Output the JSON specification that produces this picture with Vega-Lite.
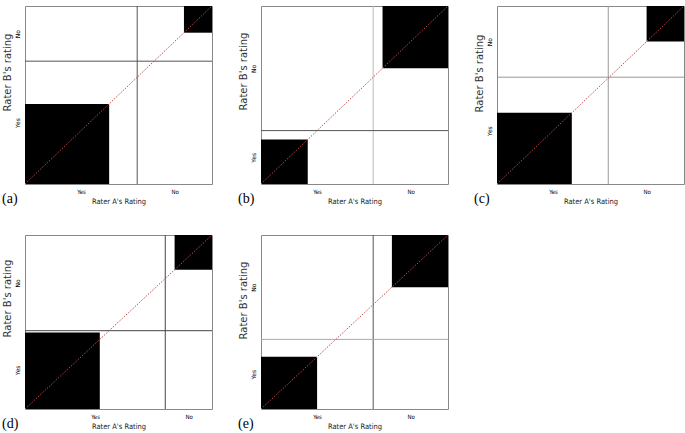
{
  "$schema": "https://vega.github.io/schema/vega-lite/v6.json",
  "background": "white",
  "padding": {"left": 1, "top": 5, "right": 0, "bottom": 0},
  "columns": 3,
  "spacing": {"row": 51, "column": 49},
  "bounds": "flush",
  "config": {
    "view": {"stroke": "#888"},
    "title": {"font": "Liberation Serif", "fontSize": 14, "fontWeight": "normal", "color": "black"},
    "axis": {"ticks": false, "domain": false, "grid": false, "labelColor": "black", "titleColor": "black", "titleFontWeight": "normal"},
    "axisX": {"labelFont": "DejaVu Sans Condensed, Liberation Sans Narrow, Liberation Sans", "labelFontSize": 6, "labelPadding": 4, "titleFont": "DejaVu Sans Condensed, Liberation Sans Narrow, Liberation Sans", "titleFontSize": 7.5, "titlePadding": 3, "titleColor": "#222"},
    "axisY": {"labelFont": "DejaVu Sans", "labelFontSize": 6, "labelAngle": -90, "labelAlign": "center", "labelBaseline": "bottom", "labelPadding": 5, "titleFont": "DejaVu Sans", "titleFontSize": 10, "titlePadding": 2, "titleColor": "#333"}
  },
  "concat": [
    {
      "width": 187, "height": 178,
      "title": {"text": "(a)", "orient": "bottom", "anchor": "start", "frame": "bounds", "offset": -13},
      "layer": [
        {"data": {"values": [{"x0": 0, "x1": 0.45, "y0": 0, "y1": 0.45}, {"x0": 0.85, "x1": 1, "y0": 0.85, "y1": 1}]},
         "mark": {"type": "rect", "color": "black"},
         "encoding": {
           "x": {"field": "x0", "type": "quantitative", "scale": {"domain": [0, 1], "nice": false, "zero": false},
                 "axis": {"values": [0.3, 0.8], "labelExpr": "datum.value < 0.6 ? 'Yes' : 'No'", "title": "Rater A's Rating"}},
           "x2": {"field": "x1"},
           "y": {"field": "y0", "type": "quantitative", "scale": {"domain": [0, 1], "nice": false, "zero": false},
                 "axis": {"values": [0.345, 0.845], "labelExpr": "datum.value < 0.69 ? 'Yes' : 'No'", "title": "Rater B's rating", "titleY": 66}},
           "y2": {"field": "y1"}}},
        {"data": {"values": [{"x0": 0.6}]}, "mark": {"type": "rule", "color": "#555"},
         "encoding": {"x": {"field": "x0", "type": "quantitative"}}},
        {"data": {"values": [{"y0": 0.69}]}, "mark": {"type": "rule", "color": "#555"},
         "encoding": {"y": {"field": "y0", "type": "quantitative"}}},
        {"data": {"values": [{"x0": 0, "y0": 0, "x1": 1, "y1": 1}]}, "mark": {"type": "rule", "color": "#c04848", "strokeDash": [1.5, 1.5]},
         "encoding": {"x": {"field": "x0", "type": "quantitative"}, "y": {"field": "y0", "type": "quantitative"}, "x2": {"field": "x1"}, "y2": {"field": "y1"}}}
      ]
    },
    {
      "width": 187, "height": 178,
      "title": {"text": "(b)", "orient": "bottom", "anchor": "start", "frame": "bounds", "offset": -13},
      "layer": [
        {"data": {"values": [{"x0": 0, "x1": 0.25, "y0": 0, "y1": 0.25}, {"x0": 0.65, "x1": 1, "y0": 0.65, "y1": 1}]},
         "mark": {"type": "rect", "color": "black"},
         "encoding": {
           "x": {"field": "x0", "type": "quantitative", "scale": {"domain": [0, 1], "nice": false, "zero": false},
                 "axis": {"values": [0.3, 0.8], "labelExpr": "datum.value < 0.6 ? 'Yes' : 'No'", "title": "Rater A's Rating"}},
           "x2": {"field": "x1"},
           "y": {"field": "y0", "type": "quantitative", "scale": {"domain": [0, 1], "nice": false, "zero": false},
                 "axis": {"values": [0.15, 0.65], "labelExpr": "datum.value < 0.3 ? 'Yes' : 'No'", "title": "Rater B's rating", "titleY": 65}},
           "y2": {"field": "y1"}}},
        {"data": {"values": [{"x0": 0.6}]}, "mark": {"type": "rule", "color": "#bbb"},
         "encoding": {"x": {"field": "x0", "type": "quantitative"}}},
        {"data": {"values": [{"y0": 0.3}]}, "mark": {"type": "rule", "color": "#555"},
         "encoding": {"y": {"field": "y0", "type": "quantitative"}}},
        {"data": {"values": [{"x0": 0, "y0": 0, "x1": 1, "y1": 1}]}, "mark": {"type": "rule", "color": "#c04848", "strokeDash": [1.5, 1.5]},
         "encoding": {"x": {"field": "x0", "type": "quantitative"}, "y": {"field": "y0", "type": "quantitative"}, "x2": {"field": "x1"}, "y2": {"field": "y1"}}}
      ]
    },
    {
      "width": 187, "height": 178,
      "title": {"text": "(c)", "orient": "bottom", "anchor": "start", "frame": "bounds", "offset": -13},
      "layer": [
        {"data": {"values": [{"x0": 0, "x1": 0.4, "y0": 0, "y1": 0.4}, {"x0": 0.8, "x1": 1, "y0": 0.8, "y1": 1}]},
         "mark": {"type": "rect", "color": "black"},
         "encoding": {
           "x": {"field": "x0", "type": "quantitative", "scale": {"domain": [0, 1], "nice": false, "zero": false},
                 "axis": {"values": [0.3, 0.8], "labelExpr": "datum.value < 0.595 ? 'Yes' : 'No'", "title": "Rater A's Rating"}},
           "x2": {"field": "x1"},
           "y": {"field": "y0", "type": "quantitative", "scale": {"domain": [0, 1], "nice": false, "zero": false},
                 "axis": {"values": [0.3, 0.8], "labelExpr": "datum.value < 0.6 ? 'Yes' : 'No'", "title": "Rater B's rating", "titleY": 67}},
           "y2": {"field": "y1"}}},
        {"data": {"values": [{"x0": 0.595}]}, "mark": {"type": "rule", "color": "#999"},
         "encoding": {"x": {"field": "x0", "type": "quantitative"}}},
        {"data": {"values": [{"y0": 0.6}]}, "mark": {"type": "rule", "color": "#999"},
         "encoding": {"y": {"field": "y0", "type": "quantitative"}}},
        {"data": {"values": [{"x0": 0, "y0": 0, "x1": 1, "y1": 1}]}, "mark": {"type": "rule", "color": "#c04848", "strokeDash": [1.5, 1.5]},
         "encoding": {"x": {"field": "x0", "type": "quantitative"}, "y": {"field": "y0", "type": "quantitative"}, "x2": {"field": "x1"}, "y2": {"field": "y1"}}}
      ]
    },
    {
      "width": 187, "height": 174,
      "title": {"text": "(d)", "orient": "bottom", "anchor": "start", "frame": "bounds", "offset": -13},
      "layer": [
        {"data": {"values": [{"x0": 0, "x1": 0.4, "y0": 0, "y1": 0.44}, {"x0": 0.8, "x1": 1, "y0": 0.8, "y1": 1}]},
         "mark": {"type": "rect", "color": "black"},
         "encoding": {
           "x": {"field": "x0", "type": "quantitative", "scale": {"domain": [0, 1], "nice": false, "zero": false},
                 "axis": {"values": [0.375, 0.875], "labelExpr": "datum.value < 0.75 ? 'Yes' : 'No'", "title": "Rater A's Rating"}},
           "x2": {"field": "x1"},
           "y": {"field": "y0", "type": "quantitative", "scale": {"domain": [0, 1], "nice": false, "zero": false},
                 "axis": {"values": [0.225, 0.725], "labelExpr": "datum.value < 0.45 ? 'Yes' : 'No'", "title": "Rater B's rating", "titleY": 63}},
           "y2": {"field": "y1"}}},
        {"data": {"values": [{"x0": 0.75}]}, "mark": {"type": "rule", "color": "#444"},
         "encoding": {"x": {"field": "x0", "type": "quantitative"}}},
        {"data": {"values": [{"y0": 0.45}]}, "mark": {"type": "rule", "color": "#444"},
         "encoding": {"y": {"field": "y0", "type": "quantitative"}}},
        {"data": {"values": [{"x0": 0, "y0": 0, "x1": 1, "y1": 1}]}, "mark": {"type": "rule", "color": "#c04848", "strokeDash": [1.5, 1.5]},
         "encoding": {"x": {"field": "x0", "type": "quantitative"}, "y": {"field": "y0", "type": "quantitative"}, "x2": {"field": "x1"}, "y2": {"field": "y1"}}}
      ]
    },
    {
      "width": 187, "height": 174,
      "title": {"text": "(e)", "orient": "bottom", "anchor": "start", "frame": "bounds", "offset": -13},
      "layer": [
        {"data": {"values": [{"x0": 0, "x1": 0.3, "y0": 0, "y1": 0.3}, {"x0": 0.7, "x1": 1, "y0": 0.7, "y1": 1}]},
         "mark": {"type": "rect", "color": "black"},
         "encoding": {
           "x": {"field": "x0", "type": "quantitative", "scale": {"domain": [0, 1], "nice": false, "zero": false},
                 "axis": {"values": [0.3, 0.8], "labelExpr": "datum.value < 0.6 ? 'Yes' : 'No'", "title": "Rater A's Rating"}},
           "x2": {"field": "x1"},
           "y": {"field": "y0", "type": "quantitative", "scale": {"domain": [0, 1], "nice": false, "zero": false},
                 "axis": {"values": [0.2, 0.7], "labelExpr": "datum.value < 0.4 ? 'Yes' : 'No'", "title": "Rater B's rating", "titleY": 65}},
           "y2": {"field": "y1"}}},
        {"data": {"values": [{"x0": 0.6}]}, "mark": {"type": "rule", "color": "#555"},
         "encoding": {"x": {"field": "x0", "type": "quantitative"}}},
        {"data": {"values": [{"y0": 0.4}]}, "mark": {"type": "rule", "color": "#aaa"},
         "encoding": {"y": {"field": "y0", "type": "quantitative"}}},
        {"data": {"values": [{"x0": 0, "y0": 0, "x1": 1, "y1": 1}]}, "mark": {"type": "rule", "color": "#c04848", "strokeDash": [1.5, 1.5]},
         "encoding": {"x": {"field": "x0", "type": "quantitative"}, "y": {"field": "y0", "type": "quantitative"}, "x2": {"field": "x1"}, "y2": {"field": "y1"}}}
      ]
    }
  ]
}
